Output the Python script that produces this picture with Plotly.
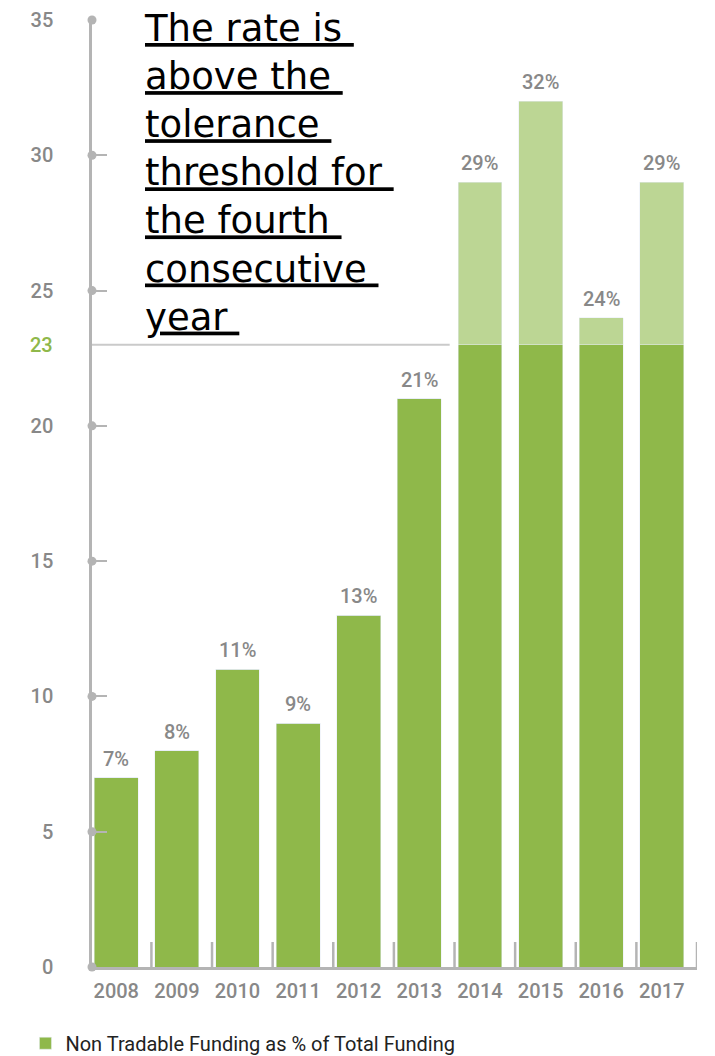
import numpy as np
import plotly.graph_objects as go

years = ["2008", "2009", "2010", "2011", "2012", "2013", "2014", "2015", "2016", "2017"]
values = [7, 8, 11, 9, 13, 21, 29, 32, 24, 29]
threshold = 23
y_ticks = [0, 5, 10, 15, 20, 25, 30, 35]
title_lines = ["The rate is", "above the", "tolerance", "threshold for", "the fourth", "consecutive", "year"]
legend_label = "Non Tradable Funding as % of Total Funding"

DARK = "#8fb84a"
LIGHT = "#bcd694"
GRAY = "#b4b4b4"
LABEL = "#888888"

x = np.arange(len(years))
vals = np.array(values, dtype=float)
base_part = np.minimum(vals, threshold)
over_part = np.maximum(vals - threshold, 0)

x_min, x_max = -0.40, len(years) - 1 + 0.58

fig = go.Figure()
fig.add_trace(go.Bar(x=x, y=base_part, marker_color=DARK, width=0.725,
                     name=legend_label, showlegend=True))
fig.add_trace(go.Bar(x=x, y=over_part, marker_color=LIGHT, width=0.725,
                     showlegend=False, hoverinfo="skip"))
# axis dots
fig.add_trace(go.Scatter(x=[x_min] * len(y_ticks), y=y_ticks, mode="markers",
                         marker=dict(color=GRAY, size=9), cliponaxis=False,
                         showlegend=False, hoverinfo="skip"))

# value labels
for xi, v in zip(x, values):
    fig.add_annotation(x=xi, y=v, text=f"{v}%", showarrow=False, yanchor="bottom",
                       yshift=5, font=dict(family="Roboto", size=20, weight=500, color=LABEL))

# threshold line up to the first bar that exceeds it
first_over = int(np.argmax(vals > threshold))
fig.add_shape(type="line", x0=x_min, x1=first_over - 0.5, y0=threshold, y1=threshold,
              line=dict(color="#cacaca", width=2), layer="below")
fig.add_annotation(xref="paper", x=-0.061, xanchor="right", y=threshold, text=str(threshold),
                   showarrow=False, font=dict(family="Roboto", size=20, weight=500, color=DARK))

# category separator ticks on x axis
for xi in x:
    fig.add_shape(type="line", x0=xi + 0.58, x1=xi + 0.58, yref="paper", y0=0, y1=25 / 947,
                  line=dict(color=GRAY, width=2.5))

# title text
title_html = "<br>".join(f"<u>{t}\u00a0</u>" for t in title_lines)
fig.add_annotation(xref="paper", yref="paper", x=0.0824, y=1.0157, xanchor="left", yanchor="top",
                   align="left", text=title_html, showarrow=False,
                   font=dict(family="DejaVu Sans", size=37, color="#000000"))

fig.update_layout(
    width=707, height=1048,
    margin=dict(l=84, r=18, t=12, b=89, autoexpand=False),
    paper_bgcolor="white", plot_bgcolor="white",
    barmode="stack",
    showlegend=True,
    legend=dict(orientation="h", x=-0.11, xanchor="left", y=-0.0805, yanchor="middle",
                font=dict(family="Roboto", size=20, color="#222222"), itemclick=False),
    xaxis=dict(range=[x_min, x_max], tickvals=list(x), ticktext=years, showgrid=False,
               zeroline=False, showline=True, linecolor=GRAY, linewidth=2.5, ticks="",
               automargin=False,
               tickfont=dict(family="Roboto", size=20, weight=500, color=LABEL), ticklabelstandoff=4),
    yaxis=dict(range=[0, 35], tickvals=y_ticks, showgrid=False, zeroline=False,
               showline=True, linecolor=GRAY, linewidth=2.5, ticks="inside", ticklen=15,
               tickwidth=2, tickcolor=GRAY, ticklabelstandoff=32, automargin=False,
               tickfont=dict(family="Roboto", size=20, weight=500, color=LABEL)),
)

fig.write_html("out.html")
